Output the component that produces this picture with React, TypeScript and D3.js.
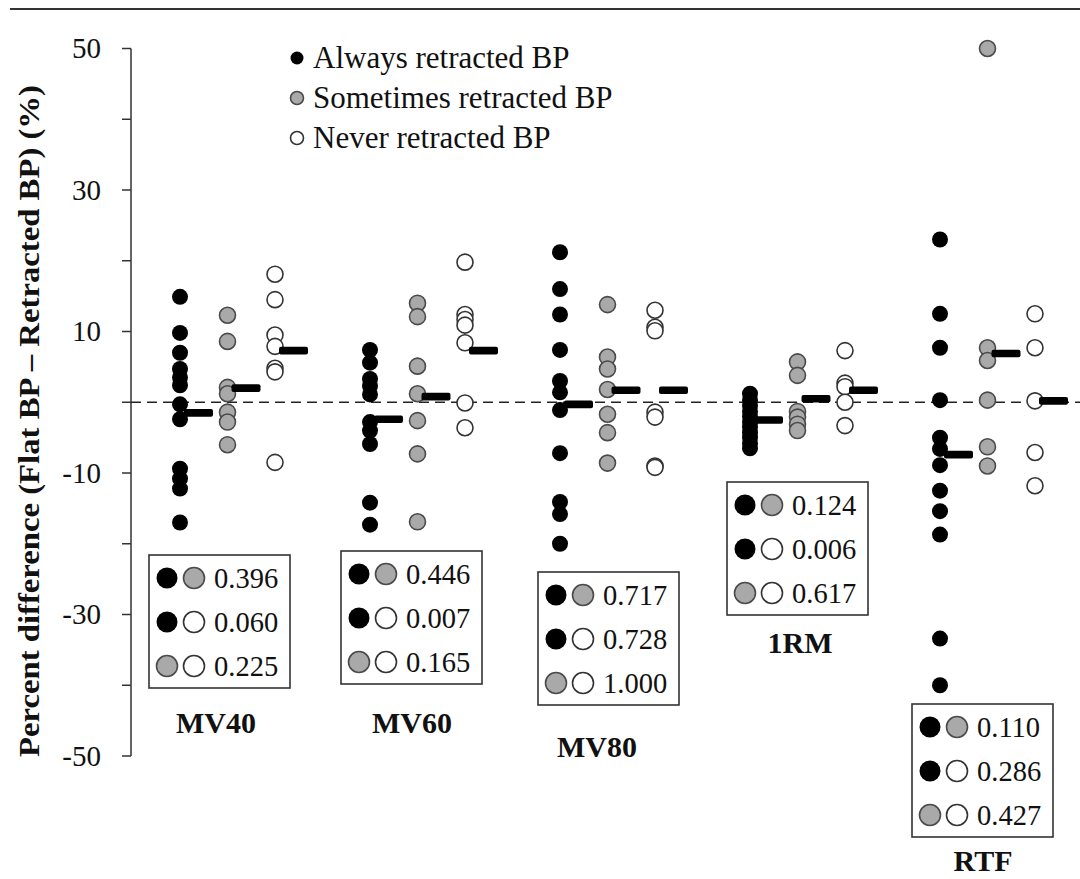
import React from "react";
import * as d3 from "d3";

// ---------- DATA ----------
const groups = ["MV40", "MV60", "MV80", "1RM", "RTF"];
const seriesNames = ["Always retracted BP", "Sometimes retracted BP", "Never retracted BP"];

const alwaysValues = [
  [14.9, 9.8, 7.0, 4.7, 3.5, 2.4, -0.3, -2.4, -9.4, -10.8, -12.2, -17.0],
  [7.4, 5.6, 3.3, 2.3, 1.1, -2.8, -4.0, -5.9, -14.2, -17.3],
  [21.2, 16.0, 12.4, 7.4, 3.0, 1.4, -1.1, -7.2, -14.1, -15.8, -20.0],
  [1.2, 0.3, -0.5, -1.3, -2.0, -2.8, -3.5, -4.3, -5.0, -5.8, -6.5],
  [23.0, 12.5, 7.7, 0.3, -5.0, -6.6, -8.9, -12.5, -15.4, -18.7, -33.4, -40.0],
];
const sometimesValues = [
  [12.3, 8.6, 2.1, 1.2, -1.4, -2.8, -6.0],
  [14.0, 12.1, 5.1, 1.2, -2.6, -7.3, -16.9],
  [13.8, 6.4, 4.7, 1.8, -1.7, -4.3, -8.6],
  [5.7, 3.8, -1.3, -2.1, -3.1, -4.0],
  [50.0, 7.7, 5.9, 0.3, -6.3, -9.0],
];
const neverValues = [
  [18.1, 14.5, 9.5, 7.9, 4.8, 4.3, -8.5],
  [19.8, 12.4, 11.7, 10.9, 8.4, -0.1, -3.6],
  [13.0, 10.6, 10.1, -1.4, -2.1, -9.0, -9.2],
  [7.3, 2.7, 2.2, 0.0, -3.3],
  [12.5, 7.7, 0.2, -7.1, -11.8],
];
const alwaysMeans = [-1.5, -2.4, -0.3, -2.5, -7.4];
const sometimesMeans = [2.0, 0.8, 1.7, 0.5, 6.9];
const neverMeans = [7.3, 7.3, 1.7, 1.7, 0.2];

const pAlwaysSometimes = ["0.396", "0.446", "0.717", "0.124", "0.110"];
const pAlwaysNever = ["0.060", "0.007", "0.728", "0.006", "0.286"];
const pSometimesNever = ["0.225", "0.165", "1.000", "0.617", "0.427"];

const tickValues = [50, 40, 30, 20, 10, 0, -10, -20, -30, -40, -50];
const tickLabels = ["50", "30", "10", "-10", "-30", "-50"];

const yTitle = "Percent difference (Flat BP \u2013 Retracted BP) (%)";

// ---------- LAYOUT ----------
const W = 1080;
const H = 879;
const FONT = "'Liberation Serif', 'Times New Roman', Times, serif";
const fills = ["#000000", "#a9a9a9", "#ffffff"];
const strokes = ["#000000", "#4a4a4a", "#333333"];

// p-value box placement (left, top) and group label placement (cx, baseline)
const boxPos = [
  [149, 555],
  [341, 551],
  [538, 572],
  [727, 482],
  [912, 704],
];
const labelPos = [
  [216, 733],
  [412, 733],
  [597, 757],
  [800, 653],
  [983, 871],
];

const y = d3.scaleLinear().domain([-50, 50]).range([756, 48.5]);
const xGroup = d3.scalePoint<string>().domain(groups).range([180, 940]);
const xSeries = d3.scalePoint<string>().domain(seriesNames).range([0, 95]);

const allValues = [alwaysValues, sometimesValues, neverValues];
const allMeans = [alwaysMeans, sometimesMeans, neverMeans];

function Dot({ cx, cy, r, s }: { cx: number; cy: number; r: number; s: number }) {
  return (
    <circle
      cx={cx}
      cy={cy}
      r={r}
      fill={fills[s]}
      stroke={strokes[s]}
      strokeWidth={s === 0 ? 0 : 1.6}
    />
  );
}

export default function App() {
  const axisX = 131;
  return (
    <svg
      width={W}
      height={H}
      viewBox={`0 0 ${W} ${H}`}
      style={{ position: "absolute", left: 0, top: 0, background: "#fff" }}
      fontFamily={FONT}
    >
      <rect x={0} y={0} width={W} height={H} fill="#fff" />
      {/* top rule */}
      <line x1={10} x2={W} y1={9} y2={9} stroke="#333" strokeWidth={2} />

      {/* y axis */}
      <line x1={axisX} x2={axisX} y1={y(50)} y2={y(-50)} stroke="#333" strokeWidth={1.5} />
      {tickValues.map((t) => (
        <line key={t} x1={axisX - 9} x2={axisX} y1={y(t)} y2={y(t)} stroke="#333" strokeWidth={1.5} />
      ))}
      {tickLabels.map((t) => (
        <text key={t} x={101} y={y(+t) + 9.5} textAnchor="end" fontSize={29} fill="#111">
          {t}
        </text>
      ))}
      <text
        transform={`translate(39, 421) rotate(-90)`}
        textAnchor="middle"
        fontSize={30}
        fontWeight="bold"
        fill="#111"
        textLength={672}
        lengthAdjust="spacingAndGlyphs"
      >
        {yTitle}
      </text>

      {/* zero line */}
      <line
        x1={axisX}
        x2={W}
        y1={y(0)}
        y2={y(0)}
        stroke="#222"
        strokeWidth={1.5}
        strokeDasharray="10,6"
      />

      {/* legend */}
      {seriesNames.map((s, i) => (
        <g key={s}>
          <Dot cx={297} cy={58 + i * 40} r={6.5} s={i} />
          <text x={313} y={68 + i * 40} fontSize={31} fill="#111">
            {s}
          </text>
        </g>
      ))}

      {/* dots & means */}
      {groups.map((g, gi) =>
        seriesNames.map((sn, si) => {
          const cx = (xGroup(g) as number) + (xSeries(sn) as number);
          return (
            <g key={g + sn}>
              {allValues[si][gi].map((v, k) => (
                <Dot key={k} cx={cx} cy={y(v)} r={8} s={si} />
              ))}
              <rect
                x={cx + 4}
                y={y(allMeans[si][gi]) - 3.8}
                width={29}
                height={7.6}
                rx={2}
                fill="#000"
              />
            </g>
          );
        })
      )}

      {/* p-value boxes */}
      {groups.map((g, gi) => {
        const [bx, by] = boxPos[gi];
        const rows: [number, number, string][] = [
          [0, 1, pAlwaysSometimes[gi]],
          [0, 2, pAlwaysNever[gi]],
          [1, 2, pSometimesNever[gi]],
        ];
        const rowY = [23, 67, 111];
        return (
          <g key={"box" + g}>
            <rect x={bx} y={by} width={141} height={133} fill="#fff" stroke="#333" strokeWidth={1.6} />
            {rows.map(([a, b, p], ri) => (
              <g key={ri}>
                <Dot cx={bx + 18} cy={by + rowY[ri]} r={10.5} s={a} />
                <Dot cx={bx + 45} cy={by + rowY[ri]} r={10.5} s={b} />
                <text x={bx + 65} y={by + rowY[ri] + 10} fontSize={28.5} fill="#111">
                  {p}
                </text>
              </g>
            ))}
          </g>
        );
      })}

      {/* group labels */}
      {groups.map((g, gi) => (
        <text
          key={"lab" + g}
          x={labelPos[gi][0]}
          y={labelPos[gi][1]}
          textAnchor="middle"
          fontSize={30}
          fontWeight="bold"
          fill="#111"
        >
          {g}
        </text>
      ))}
    </svg>
  );
}
